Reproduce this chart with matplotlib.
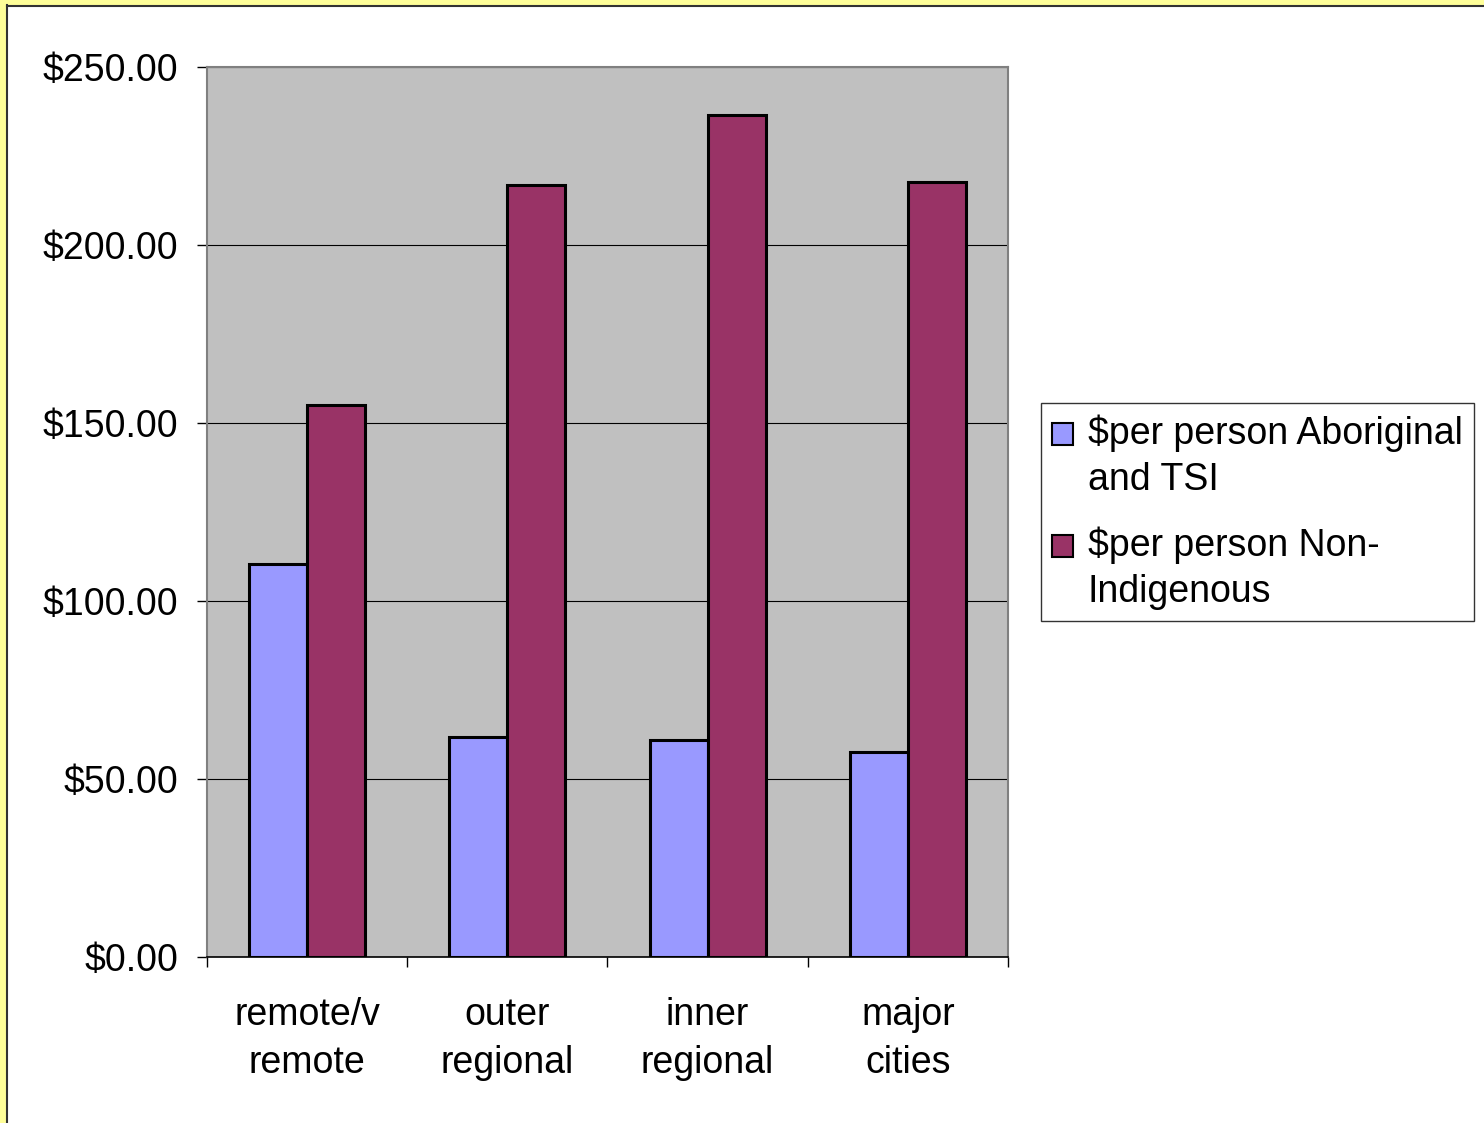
import matplotlib.pyplot as plt
import numpy as np
from matplotlib.patches import Rectangle
from matplotlib.lines import Line2D

plt.rcParams['font.family'] = ['Liberation Sans', 'DejaVu Sans']

categories = ["remote/v\nremote", "outer\nregional", "inner\nregional", "major\ncities"]
aboriginal = [110.4, 61.8, 61.0, 57.6]
non_indigenous = [155.1, 216.9, 236.5, 217.7]
series_labels = ["$per person Aboriginal\nand TSI", "$per person Non-\nIndigenous"]
y_ticks = [0, 50, 100, 150, 200, 250]

fig = plt.figure(figsize=(14.84, 11.23), dpi=100)

# yellow slide border on the left and top
fig.patches.append(Rectangle((0, 0), 6 / 1484, 1, transform=fig.transFigure,
                             facecolor="#FFFF99", edgecolor="none", zorder=0))
fig.patches.append(Rectangle((0, 1 - 5 / 1123), 1, 5 / 1123, transform=fig.transFigure,
                             facecolor="#FFFF99", edgecolor="none", zorder=0))
fig.lines.append(Line2D([6.5 / 1484, 6.5 / 1484], [0, 1 - 5 / 1123], transform=fig.transFigure,
                        color="#333333", linewidth=1.5))
fig.lines.append(Line2D([6.5 / 1484, 1], [1 - 5.5 / 1123, 1 - 5.5 / 1123], transform=fig.transFigure,
                        color="#333333", linewidth=1.5))

ax = fig.add_axes([207 / 1484, 1 - 957 / 1123, 801 / 1484, 890 / 1123])
ax.set_facecolor("#C0C0C0")

x = np.arange(len(categories))
w = 0.29
ax.bar(x - w / 2, aboriginal, width=w, color="#9999FF", edgecolor="black",
       linewidth=2.2, label=series_labels[0], zorder=3)
ax.bar(x + w / 2, non_indigenous, width=w, color="#993366", edgecolor="black",
       linewidth=2.2, label=series_labels[1], zorder=3)

ax.set_xlim(-0.5, len(categories) - 0.5)
ax.set_ylim(0, 250)
ax.set_yticks(y_ticks)
ax.set_yticklabels([f"${v:.2f}" for v in y_ticks], fontsize=27)
ax.yaxis.grid(True, color="black", linewidth=0.8, zorder=1)
ax.set_axisbelow(True)

ax.set_xticks(x)
ax.set_xticklabels(categories, fontsize=27, linespacing=1.42)
ax.tick_params(axis="x", which="major", length=0, pad=29)
ax.set_xticks(np.arange(len(categories) + 1) - 0.5, minor=True)
ax.tick_params(axis="x", which="minor", length=7.5, width=1, color="black")
ax.tick_params(axis="y", length=7.5, width=1, color="black", pad=13)

for side in ["top", "right", "left"]:
    ax.spines[side].set_color("#808080")
    ax.spines[side].set_linewidth(1.5)
ax.spines["bottom"].set_color("black")
ax.spines["bottom"].set_linewidth(1.2)

leg = fig.legend(loc="upper left", bbox_to_anchor=(1041 / 1484, 1 - 403 / 1123),
                 fontsize=27, frameon=True, fancybox=False, shadow=False,
                 handlelength=0.55, handleheight=0.55, handletextpad=0.4,
                 labelspacing=0.75, borderpad=0.3, borderaxespad=0)
leg.get_frame().set_edgecolor("black")
leg.get_frame().set_linewidth(1.0)
for t in leg.get_texts():
    t.set_linespacing(1.37)
# put the colour boxes next to the first line of each entry
for col in leg._legend_handle_box.get_children():
    for row in col.get_children():
        row.align = "top"
for h in leg.legend_handles:
    h.set_linewidth(1.5)
    h.set_y(h.get_y() - 6)

fig.savefig("out.png", dpi=100)
